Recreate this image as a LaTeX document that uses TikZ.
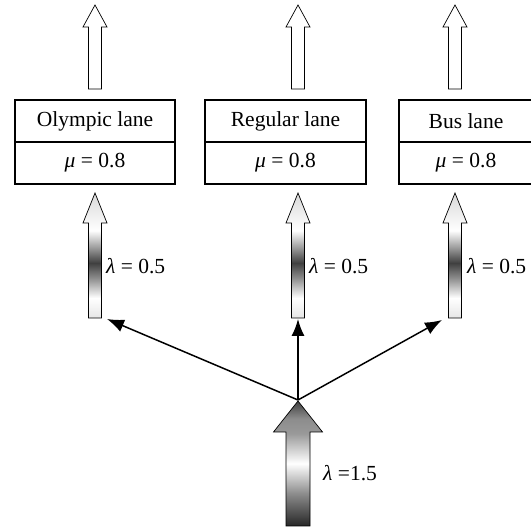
\documentclass[tikz,border=0pt]{standalone}
\usepackage{fontspec}
\setmainfont{Liberation Serif}
\usetikzlibrary{arrows.meta}

% vertical shadings; the path spans 25bp (bottom) to 75bp (top)
\pgfdeclareverticalshading{laneflow}{100bp}{%
  color(0bp)=(black!10); color(25bp)=(black!10); color(33bp)=(white);
  color(41bp)=(black!45); color(47bp)=(black!75); color(53bp)=(black!40);
  color(60bp)=(white); color(75bp)=(black!15); color(100bp)=(black!15)}
\pgfdeclareverticalshading{totalflow}{100bp}{%
  color(0bp)=(black!85); color(25bp)=(black!85); color(38bp)=(black!45);
  color(50bp)=(white); color(62bp)=(black!40); color(68bp)=(black!45);
  color(75bp)=(black!75); color(100bp)=(black!75)}

% block arrow pointing up: centre x, tip y, head-base y, bottom y, head half width, shaft half width
\newcommand\blockarrow[7][]{%
  \path[draw=black, line width=0.7pt, #1]
    (#2,#3) -- ({#2+#6},#4) -- ({#2+#7},#4) -- ({#2+#7},#5)
    -- ({#2-#7},#5) -- ({#2-#7},#4) -- ({#2-#6},#4) -- cycle;}

\begin{document}
\begin{tikzpicture}[x=1pt, y=-1pt,
  txt/.style={font=\fontsize{21.5}{25}\selectfont, inner sep=0pt},
  cell/.style={draw, line width=1.6pt, minimum height=42pt, inner sep=0pt,
    font=\fontsize{21.5}{25}\selectfont},
  link/.style={line width=1.5pt, -{Latex[length=17pt, width=13pt]}},
  outflow/.style={fill=white},
  inflow/.style={shade, shading=laneflow},
  source/.style={shade, shading=totalflow}]
\useasboundingbox (0,0) rectangle (531,529);
\clip (0,0) rectangle (531,529);

% departing traffic
\blockarrow[outflow]{95}{5}{27}{89}{12}{6.5}
\blockarrow[outflow]{298}{5}{27}{89}{12}{6.5}
\blockarrow[outflow]{455}{5}{27}{89}{12}{6.5}

% lanes with their service rates
\node[cell, minimum width=160pt] (oly-name) at (95,121) {Olympic lane};
\node[cell, minimum width=160pt] (oly-rate) at (95,163) {\textit{μ} = 0.8};
\node[cell, minimum width=161pt] (reg-name) at (285.5,121) {Regular lane};
\node[cell, minimum width=161pt] (reg-rate) at (285.5,163) {\textit{μ} = 0.8};
\node[cell, minimum width=134pt] (bus-name) at (466,121) {Bus lane};
\node[cell, minimum width=134pt] (bus-rate) at (466,163) {\textit{μ} = 0.8};

% arrivals into each lane
\blockarrow[inflow]{95}{193}{223}{318}{12}{6.5}
\blockarrow[inflow]{298}{193}{223}{318}{12}{6.5}
\blockarrow[inflow]{455}{193}{223}{318}{12}{6.5}
\node[txt, anchor=west] (oly-lambda) at (106,266) {\textit{λ} = 0.5};
\node[txt, anchor=west] (reg-lambda) at (309,266) {\textit{λ} = 0.5};
\node[txt, anchor=west] (bus-lambda) at (467,266) {\textit{λ} = 0.5};

% total arrivals
\blockarrow[source]{298}{401}{432}{526}{24.5}{12}
\node[txt, anchor=west] (total-lambda) at (323,473) {\textit{λ} =1.5};

% routing to the lanes
\coordinate (split) at (298,400);
\coordinate (oly-in) at (107,319);
\coordinate (reg-in) at (298,319);
\coordinate (bus-in) at (442,320);
\draw[link] (split) -- (oly-in);
\draw[link] (split) -- (reg-in);
\draw[link] (split) -- (bus-in);
\end{tikzpicture}
\end{document}
